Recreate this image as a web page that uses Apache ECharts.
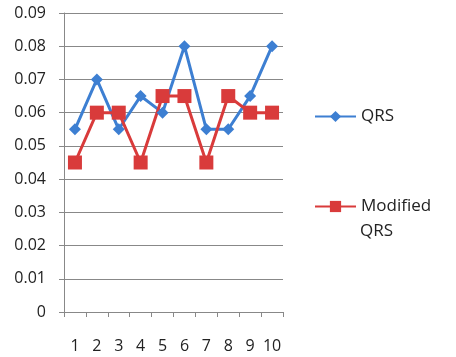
<!DOCTYPE html>
<html>
<head>
<meta charset="utf-8">
<script src="https://cdn.jsdelivr.net/npm/echarts@6/dist/echarts.min.js"></script>
<style>
  html, body { margin: 0; padding: 0; background: #fff; }
  #chart { width: 456px; height: 357px; }
</style>
</head>
<body>
<div id="chart"></div>
<script>
  var categories = ['1', '2', '3', '4', '5', '6', '7', '8', '9', '10']
  var qrs = [0.055, 0.07, 0.055, 0.065, 0.06, 0.08, 0.055, 0.055, 0.065, 0.08]
  var modifiedQrs = [0.045, 0.06, 0.06, 0.045, 0.065, 0.065, 0.045, 0.065, 0.06, 0.06]

  var font = 'Open Sans'
  var chart = echarts.init(document.getElementById('chart'))
  var legendText = { fontFamily: font, fontSize: 17, color: '#222' }
  var option = {
    animation: false,
    grid: {
      left: 64,
      right: 173,
      top: 13,
      bottom: 45
    },
    legend: [{
      data: ['QRS'],
      left: 314,
      top: 108,
      padding: 0,
      itemWidth: 41,
      itemHeight: 14,
      itemGap: 5,
      textStyle: legendText
    }, {
      data: ['Modified QRS'],
      left: 314,
      top: 198,
      padding: 0,
      itemWidth: 41,
      itemHeight: 14,
      itemGap: 5,
      // second line of the name is drawn as a separate text below
      formatter: function (name) {
        return name === 'Modified QRS' ? 'Modified' : name
      },
      textStyle: legendText
    }],
    graphic: [{
      type: 'text',
      left: 360,
      top: 223,
      style: { text: 'QRS', font: '17px "Open Sans"', fill: '#222' }
    }],
    xAxis: {
      type: 'category',
      data: categories,
      boundaryGap: true,
      axisLine: { lineStyle: { color: '#888', width: 1 } },
      axisTick: { show: true, length: 5, interval: 0, lineStyle: { color: '#888' } },
      axisLabel: { interval: 0, hideOverlap: false, margin: 26, fontFamily: font, fontSize: 16, color: '#222' }
    },
    yAxis: {
      type: 'value',
      min: 0,
      max: 0.09,
      interval: 0.01,
      axisLine: { show: true, lineStyle: { color: '#888' } },
      axisTick: { show: true, length: 5, lineStyle: { color: '#888' } },
      axisLabel: {
        margin: 18,
        fontFamily: font,
        fontSize: 16,
        color: '#222',
        formatter: function (v) { return v === 0 ? '0' : v.toFixed(2) }
      },
      splitLine: { lineStyle: { color: '#888', width: 1 } }
    },
    series: [{
      name: 'QRS',
      type: 'line',
      data: qrs,
      symbol: 'diamond',
      symbolSize: 12,
      lineStyle: { color: '#3d7fd2', width: 3 },
      itemStyle: { color: '#3d7fd2' }
    }, {
      name: 'Modified QRS',
      type: 'line',
      data: modifiedQrs,
      symbol: 'rect',
      symbolSize: 14,
      lineStyle: { color: '#d93b3b', width: 3 },
      itemStyle: { color: '#d93b3b' }
    }]
  }
  chart.setOption(option)
</script>
</body>
</html>
